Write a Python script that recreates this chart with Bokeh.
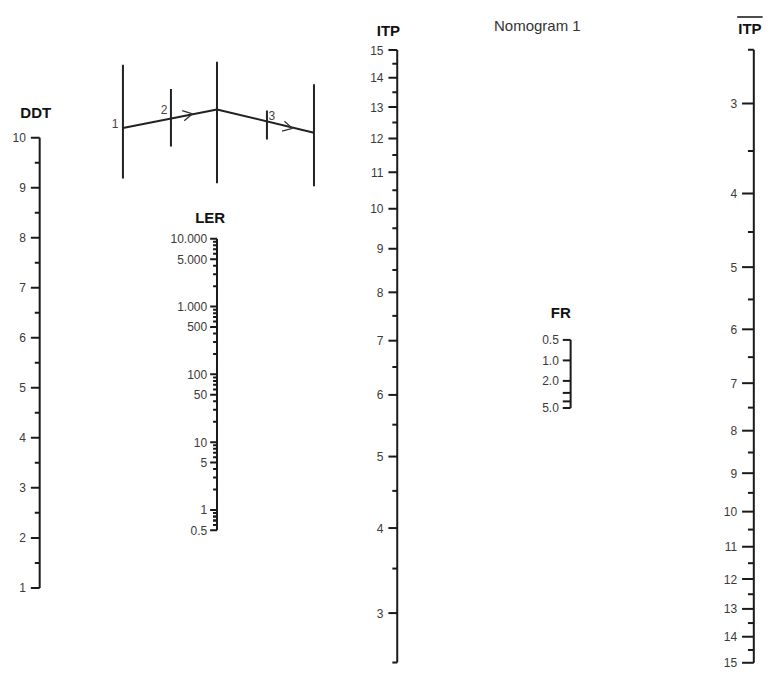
import numpy as np
from bokeh.plotting import figure
from bokeh.models import Range1d
from bokeh.core.properties import value
from bokeh.embed import file_html
from bokeh.resources import INLINE

# ---------------- data (scale values and labels) ----------------
title_text = "Nomogram 1"

ddt_major = [1, 2, 3, 4, 5, 6, 7, 8, 9, 10]
ddt_minor = [1.5, 2.5, 3.5, 4.5, 5.5, 6.5, 7.5, 8.5, 9.5]
ddt_labels = ["1", "2", "3", "4", "5", "6", "7", "8", "9", "10"]

ler_major = [0.5, 1, 5, 10, 50, 100, 500, 1000, 5000, 10000]
ler_labels = ["0.5", "1", "5", "10", "50", "100", "500", "1.000", "5.000", "10.000"]
ler_minor_mantissa = [2, 3, 4, 6, 7, 8, 9]
ler_decades = [0.1, 1, 10, 100, 1000]
ler_range = [0.5, 10000]

itp_major = [3, 4, 5, 6, 7, 8, 9, 10, 11, 12, 13, 14, 15]
itp_labels = ["3", "4", "5", "6", "7", "8", "9", "10", "11", "12", "13", "14", "15"]
itp_minor = [2.5, 3.5, 4.5, 5.5, 6.5, 7.5, 8.5, 9.5, 10.5, 11.5, 12.5, 13.5, 14.5]
itp_range = [2.5, 15]

fr_major = [0.5, 1.0, 2.0, 5.0]
fr_labels = ["0.5", "1.0", "2.0", "5.0"]
fr_minor = [3, 4]
fr_range = [0.5, 5.0]

itpbar_major = [3, 4, 5, 6, 7, 8, 9, 10, 11, 12, 13, 14, 15]
itpbar_labels = ["3", "4", "5", "6", "7", "8", "9", "10", "11", "12", "13", "14", "15"]
itpbar_minor = [2.5, 3.5, 4.5, 5.5, 6.5, 7.5, 8.5, 9.5, 10.5, 11.5, 12.5, 13.5, 14.5]
itpbar_range = [2.5, 15]

# schematic key (reading order 1 -> 2 -> pivot -> 3 -> result)
key_stems_x = [125, 174, 221, 272, 320]
key_stems_top = [68, 93, 65, 115, 88]
key_stems_bot = [185, 152, 190, 145, 193]
key_path_x = [125, 221, 320]
key_path_y = [133, 114, 138]
key_arrow_tips = [(196, 118.5), (298, 133.5)]
key_numbers = ["1", "2", "3"]
key_number_xy = [(117, 128), (167, 114), (277, 120)]

# ---------------- scale definitions (layout) ----------------
def y_ddt(v):
    return 143 + (10 - np.asarray(v, float)) * (606 - 143) / 9.0

def y_ler(v):
    return 247 + (4 - np.log10(np.asarray(v, float))) * 69.7

def y_itp(v):
    return 53 + (np.log10(16.8) - np.log10(np.asarray(v, float) + 1.8)) * 1064

def y_fr(v):
    return 351 + (np.log10(np.asarray(v, float)) - np.log10(0.5)) * 70

def y_itpbar(v):
    return 108 + (np.log10(np.asarray(v, float) + 1) - np.log10(4)) * 955

FONT = value("Liberation Sans")
LABEL_COLOR = "#3a3a3a"
LINE_COLOR = "#1a1a1a"

p = figure(width=768, height=673, output_backend="svg", toolbar_location=None,
           x_range=Range1d(0, 784), y_range=Range1d(694, 2),
           min_border=0, outline_line_color=None)
p.xaxis.visible = False
p.yaxis.visible = False
p.xgrid.visible = False
p.ygrid.visible = False
p.background_fill_color = "white"
p.border_fill_color = "white"


def draw_scale(ax_x, yfun, rng, major, labels, minor, major_len, minor_len,
               title, title_xy, label_gap=5, lw=2):
    y0, y1 = yfun(rng[0]), yfun(rng[1])
    p.segment(x0=[ax_x], y0=[float(y0)], x1=[ax_x], y1=[float(y1)],
              line_color=LINE_COLOR, line_width=lw)
    ym = yfun(major)
    p.segment(x0=[ax_x - major_len] * len(major), y0=list(ym),
              x1=[ax_x] * len(major), y1=list(ym), line_color=LINE_COLOR, line_width=lw)
    if len(minor):
        yn = yfun(minor)
        p.segment(x0=[ax_x - minor_len] * len(minor), y0=list(yn),
                  x1=[ax_x] * len(minor), y1=list(yn), line_color=LINE_COLOR, line_width=lw)
    p.text(x=[ax_x - major_len - label_gap] * len(major), y=list(ym), text=labels,
           text_font=FONT, text_font_size="12px", text_color=LABEL_COLOR,
           text_align="right", text_baseline="middle")
    p.text(x=[title_xy[0]], y=[title_xy[1]], text=[title], text_font=FONT,
           text_font_size="15px", text_font_style="bold", text_color="#111111",
           text_align="center", text_baseline="middle")


draw_scale(40, y_ddt, [1, 10], ddt_major, ddt_labels, ddt_minor, 9, 5, "DDT", (36, 117))

ler_minor = [m * d for d in ler_decades for m in ler_minor_mantissa
             if ler_range[0] <= m * d <= ler_range[1] and m * d not in ler_major]
ler_minor = ler_minor + [0.6, 0.7, 0.8, 0.9]
draw_scale(221, y_ler, ler_range, ler_major, ler_labels, ler_minor, 7, 4, "LER", (214, 225),
           label_gap=3)

draw_scale(405, y_itp, itp_range, itp_major, itp_labels, itp_minor, 9, 5, "ITP", (396, 33))

draw_scale(582, y_fr, fr_range, fr_major, fr_labels, fr_minor, 8, 8, "FR", (572, 323),
           label_gap=4)

draw_scale(769, y_itpbar, itpbar_range, itpbar_major, itpbar_labels, itpbar_minor, 12, 6,
           "ITP", (765, 31), label_gap=5)
# overline on the right-hand ITP title
p.segment(x0=[752], y0=[19], x1=[778], y1=[19], line_color="#111111", line_width=1.5)

# title
p.text(x=[548], y=[28], text=[title_text], text_font=FONT, text_font_size="15px",
       text_color="#333333", text_align="center", text_baseline="middle")

# schematic key
p.segment(x0=key_stems_x, y0=key_stems_top, x1=key_stems_x, y1=key_stems_bot,
          line_color="#222222", line_width=2)
p.line(x=key_path_x, y=key_path_y, line_color="#222222", line_width=2)
for i, (tx, ty) in enumerate(key_arrow_tips):
    dx = key_path_x[i + 1] - key_path_x[i]
    dy = key_path_y[i + 1] - key_path_y[i]
    ang = np.arctan2(dy, dx)
    L = 11
    xs, ys = [], []
    for s in (+0.5, -0.5):
        xs.append([tx - L * np.cos(ang + s), tx])
        ys.append([ty - L * np.sin(ang + s), ty])
    p.multi_line(xs=xs, ys=ys, line_color="#333333", line_width=1.3)
p.text(x=[xy[0] for xy in key_number_xy], y=[xy[1] for xy in key_number_xy],
       text=key_numbers, text_font=FONT, text_font_size="12px", text_color="#444444",
       text_align="center", text_baseline="middle")

open("out.html", "w").write(file_html(p, INLINE))
